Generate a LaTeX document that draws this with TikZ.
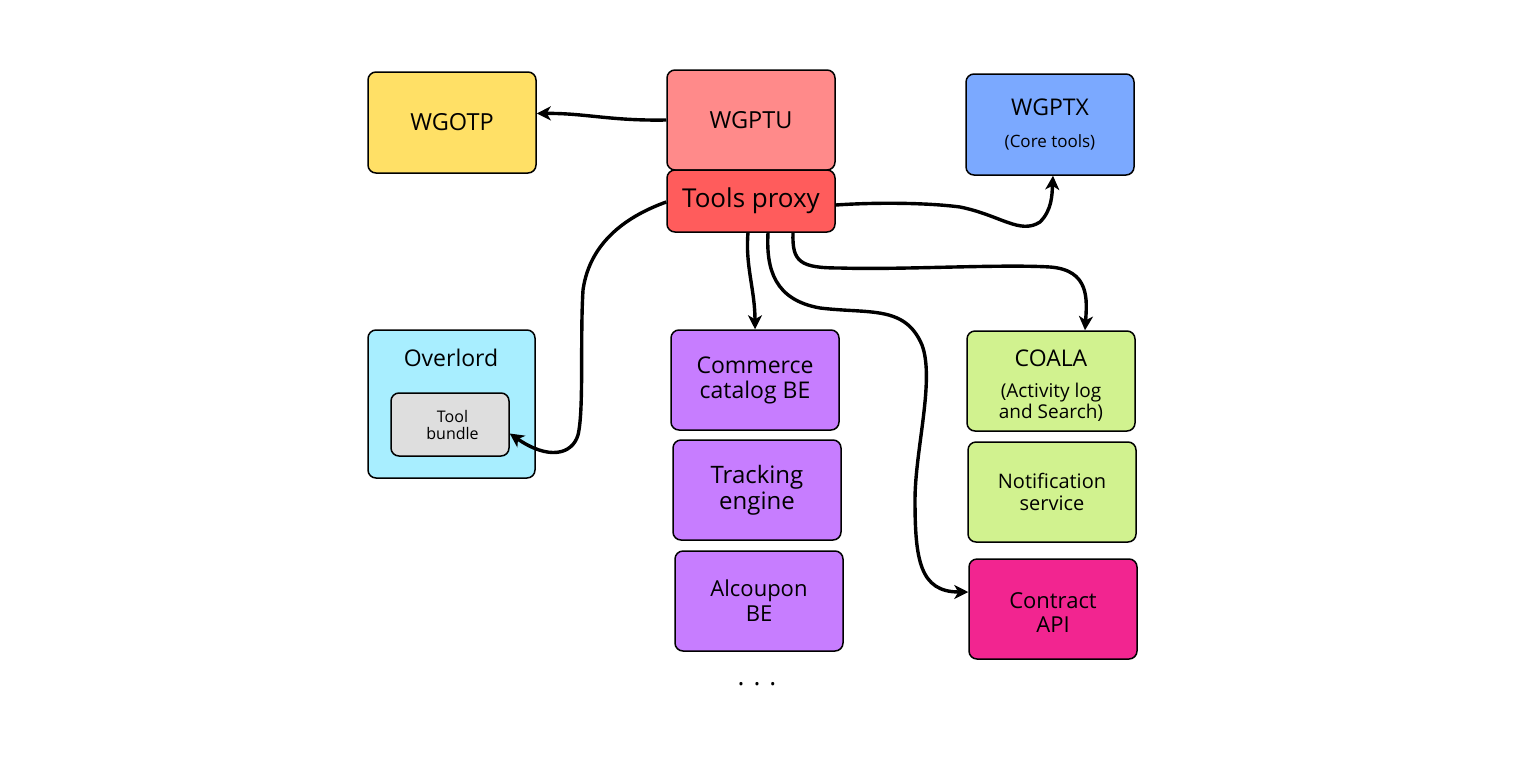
\documentclass[tikz,border=0pt]{standalone}
\usepackage{fontspec}
\setmainfont{Open Sans}
\usetikzlibrary{positioning,arrows.meta}
\definecolor{otpyellow}{HTML}{FFE066}
\definecolor{ptusalmon}{HTML}{FF8A8A}
\definecolor{proxyred}{HTML}{FF5C5C}
\definecolor{ptxblue}{HTML}{7BA9FF}
\definecolor{overcyan}{HTML}{A8EEFF}
\definecolor{bundlegrey}{HTML}{DEDEDE}
\definecolor{bepurple}{HTML}{C77DFF}
\definecolor{svcgreen}{HTML}{D1F28F}
\definecolor{apipink}{HTML}{F22590}
\newcommand{\fsz}[2]{\fontsize{#1}{#2}\selectfont}

\begin{document}
\begin{tikzpicture}[x=1pt,y=-1pt,
                box/.style={draw, rounded corners=8pt, line width=1.5pt, minimum width=168pt,
                        minimum height=100pt, align=center, inner sep=0pt},
                link/.style={-{Stealth[length=14pt,width=14pt,inset=4pt]}, line width=3.4pt},]
        \useasboundingbox (0,0) rectangle (1533,769);
        % top row
        \node[box, fill=otpyellow, minimum height=101pt, font=\fsz{23.5}{26}] (wgotp) at (452,122.5) {WGOTP};
        \node[box, fill=ptusalmon, font=\fsz{23.5}{26}] (wgptu) at (751,120) {WGPTU};
        \node[box, fill=proxyred, minimum height=62pt, font=\fsz{26}{28}] (tproxy) at (751,201) {Tools proxy};
        \node[box, fill=ptxblue, minimum height=101pt, font=\fsz{23}{26}] (wgptx) at (1050,124.5)
            {WGPTX\\[6pt]{\fsz{17}{19}(Core tools)}};
        % overlord
        \node[box, fill=overcyan, minimum width=167pt, minimum height=148pt] (overlord) at (451.5,404) {};
        \node[font=\fsz{23}{26}, inner sep=0pt] (overlordtitle) at (451,358) {Overlord};
        \node[box, fill=bundlegrey, minimum width=118pt, minimum height=63pt, font=\fsz{16}{17}] (toolb) at (450,424.5)
            {\hspace*{5pt}Tool\\\hspace*{5pt}bundle};
        % backends
        \node[box, fill=bepurple, font=\fsz{23}{25}] (commerce) at (755,380) {Commerce\\catalog BE};
        \node[box, fill=bepurple, font=\fsz{24}{26}] (tracking) at (757,490) {Tracking\\engine};
        \node[box, fill=bepurple, font=\fsz{22}{25}] (alcoupon) at (759,601) {Alcoupon\\BE};
        \node[font=\fsz{26}{28}, inner sep=0pt] (more) at (757,684) {. . .};
        % services
        \node[box, fill=svcgreen, font=\fsz{23}{26}] (coala) at (1051,381)
            {\rule{0pt}{26pt}COALA\\[5pt]{\fsz{19}{19}(Activity log}\\[-5pt]{\fsz{19}{19}and Search)}};
        \node[box, fill=svcgreen, font=\fsz{20}{22}] (notif) at (1052,492) {Notification\\service};
        \node[box, fill=apipink, font=\fsz{22}{24}] (contract) at (1053,609) {\rule{0pt}{22pt}Contract\\API};
        % connectors
        \draw[link] (wgptu.west) .. controls (610,121) and (585,113) .. ([yshift=9pt]wgotp.east);
        \draw[link] ([yshift=-4pt]tproxy.east) .. controls (880,202) and (930,203) .. (960,207)
            .. controls (1000,215) and (1020,235) .. (1040,222)
            .. controls (1052,210) and (1052,195) .. ([xshift=3pt]wgptx.south);
        \draw[link] ([yshift=-1pt]tproxy.west) .. controls (630,215) and (590,240) .. (583,290)
            .. controls (580,340) and (584,410) .. (578,435)
            .. controls (572,455) and (548,460) .. ([yshift=-9pt]toolb.east);
        \draw[link] ([xshift=-3pt]tproxy.south) .. controls (745,265) and (755,290) .. (commerce.north);
        \draw[link] ([xshift=17pt]tproxy.south) .. controls (766,270) and (775,300) .. (820,308)
            .. controls (870,314) and (905,305) .. (922,345)
            .. controls (935,380) and (915,450) .. (915,500)
            .. controls (915,560) and (920,592) .. ([yshift=17pt]contract.west);
        \draw[link] ([xshift=42pt]tproxy.south) .. controls (792,262) and (800,268) .. (840,268)
            .. controls (900,270) and (1000,264) .. (1050,267)
            .. controls (1090,270) and (1087,300) .. ([xshift=34pt]coala.north);
\end{tikzpicture}
\end{document}
